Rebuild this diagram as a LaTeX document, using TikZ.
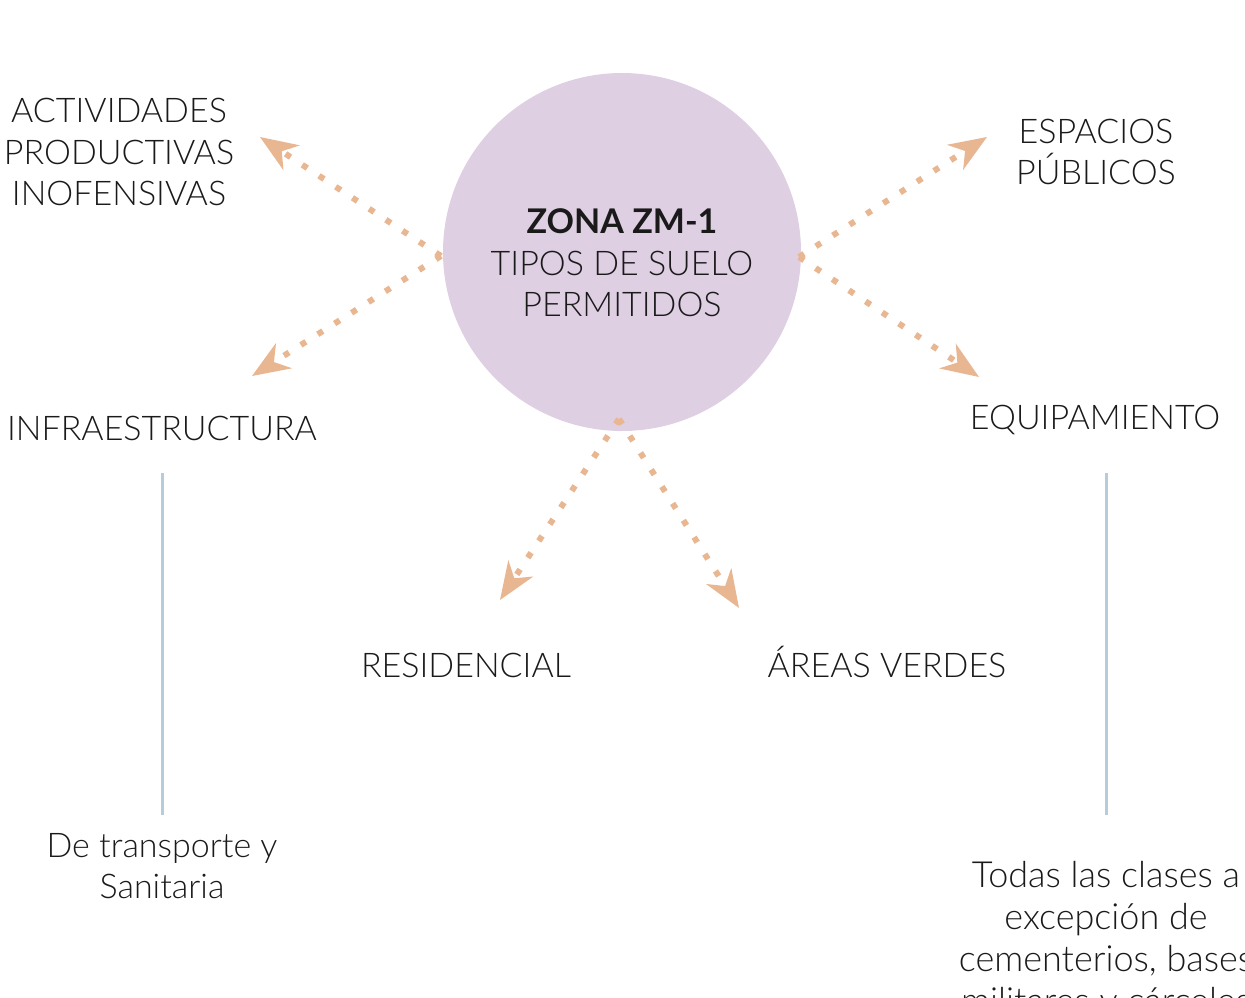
\documentclass[tikz,border=0pt]{standalone}
\usepackage{fontspec}
\setmainfont{Lato}[UprightFont=* Light, BoldFont=* Bold]
\usetikzlibrary{arrows.meta}
\definecolor{lila}{HTML}{DFCFE3}
\definecolor{durazno}{HTML}{E8B792}
\definecolor{guiagris}{HTML}{B7CCDA}
\definecolor{texto}{HTML}{1A1A1A}
\tikzset{
  lbl/.style={align=center, text=texto, font=\fontsize{34}{41.5}\selectfont, inner sep=0pt},
  flecha/.style={draw=durazno, line width=6pt, dash pattern=on 6pt off 14pt,
    -{Stealth[length=38pt, width=30pt, inset=12pt, line width=0pt, fill=durazno]}},
  guia/.style={draw=guiagris, line width=3pt}
}
\begin{document}
\begin{tikzpicture}[x=1pt, y=-1pt]
         \useasboundingbox (0,0) rectangle (1245,998);
         \clip (0,0) rectangle (1245,998);
         %nodes
         \node[circle, fill=lila, minimum size=358pt, inner sep=0pt] at (622,252) (zona) {};
         \node[lbl] at (622,263) (titulo) {\textbf{ZONA ZM-1}\\TIPOS DE SUELO\\PERMITIDOS};
         \node[lbl] at (119,152) (activ) {ACTIVIDADES\\PRODUCTIVAS\\INOFENSIVAS};
         \node[lbl] at (1096,152) (espacios) {ESPACIOS\\PÚBLICOS};
         \node[lbl] at (162,428) (infra) {INFRAESTRUCTURA};
         \node[lbl] at (1095,420) (equip) {EQUIPAMIENTO};
         \node[lbl] at (466,665) (resid) {RESIDENCIAL};
         \node[lbl] at (887,662) (areas) {ÁREAS VERDES};
         \node[lbl] at (162,866) (transp) {De transporte y\\Sanitaria};
         \node[lbl, anchor=north, font=\fontsize{36}{42}\selectfont] at (1106,861) (todas) {Todas las clases a\\excepción de\\cementerios, bases\\militares y cárceles};
         % arrow ends
         \coordinate (izq) at (441,256); \coordinate (der) at (799,257);
         \coordinate (abajo) at (619,419);
         \coordinate (p1) at (260,137); \coordinate (p2) at (252,376);
         \coordinate (p3) at (987,137); \coordinate (p4) at (979,377);
         \coordinate (p5) at (500,600); \coordinate (p6) at (739,608);
         % arrows
         \draw[flecha] (izq) -- (p1); \draw[flecha] (izq) -- (p2);
         \draw[flecha] (der) -- (p3); \draw[flecha] (der) -- (p4);
         \draw[flecha] (abajo) -- (p5); \draw[flecha] (abajo) -- (p6);
         % vertical lines
         \coordinate (g1a) at (162,473); \coordinate (g1b) at (162,815);
         \coordinate (g2a) at (1106,473); \coordinate (g2b) at (1106,815);
         \draw[guia] (g1a) -- (g1b); \draw[guia] (g2a) -- (g2b);
        \end{tikzpicture}
\end{document}
